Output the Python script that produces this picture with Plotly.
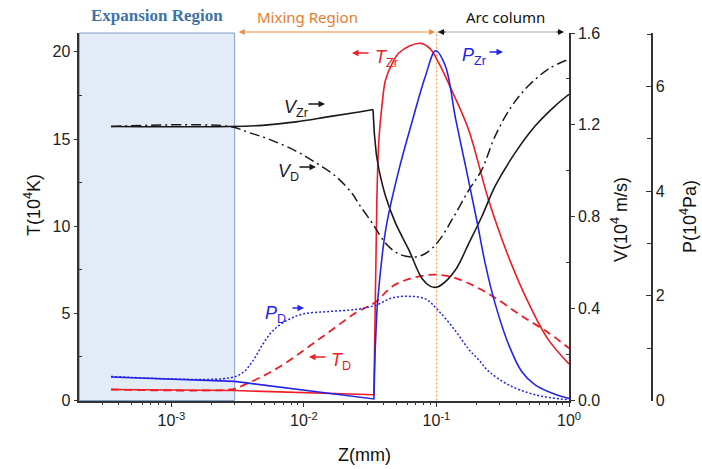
import numpy as np
import plotly.graph_objects as go

# ---- profiles along the axis, Z in mm ----
# temperature (1e4 K)
z_t_zr = [3.5e-4, 3.0e-3, 3.37e-2, 3.42e-2, 3.48e-2, 3.55e-2, 3.68e-2, 3.89e-2, 4.13e-2, 4.68e-2,
          5.20e-2, 6.31e-2, 7.57e-2, 8.91e-2, 0.104, 0.130, 0.175, 0.247, 0.349, 0.494, 0.698, 1.0]
t_zr = [0.63, 0.57, 0.33, 3.0, 8.0, 11.5, 15.0, 17.0, 18.4, 19.4,
        19.93, 20.35, 20.49, 20.2, 19.36, 17.81, 15.52, 11.51, 8.26, 5.61, 3.49, 2.1]

z_t_d = [3.5e-4, 3.0e-3, 3.26e-3, 4.88e-3, 7.31e-3, 1.096e-2, 1.64e-2, 2.46e-2, 3.48e-2, 4.63e-2,
         6.55e-2, 9.82e-2, 0.139, 0.196, 0.277, 0.440, 0.698, 1.0]
t_d = [0.63, 0.66, 0.78, 1.39, 2.16, 3.11, 4.07, 5.03, 5.65, 6.54,
       7.02, 7.22, 7.02, 6.54, 5.89, 4.85, 3.89, 3.0]

# velocity (1e4 m/s)
z_v_zr = [3.5e-4, 2.74e-3, 4.88e-3, 8.71e-3, 1.55e-2, 2.46e-2, 3.32e-2, 3.40e-2, 3.52e-2, 3.68e-2, 4.13e-2,
          4.91e-2, 6.19e-2, 7.80e-2, 9.02e-2, 0.100, 0.110, 0.139, 0.175, 0.220, 0.277, 0.393, 0.555,
          0.783, 1.0]
v_zr = [1.193, 1.193, 1.198, 1.213, 1.236, 1.254, 1.267, 1.16, 1.07, 1.005, 0.889,
        0.772, 0.656, 0.530, 0.497, 0.493, 0.505, 0.568, 0.683, 0.801, 0.933, 1.079, 1.195,
        1.282, 1.333]

z_v_d = [3.5e-4, 2.74e-3, 3.87e-3, 5.48e-3, 8.71e-3, 1.23e-2, 1.74e-2, 2.32e-2, 2.60e-2, 3.28e-2,
         4.13e-2, 5.20e-2, 6.75e-2, 8.26e-2, 0.104, 0.131, 0.175, 0.220, 0.277, 0.370, 0.494, 0.698, 1.0]
v_d = [1.193, 1.193, 1.166, 1.137, 1.086, 1.035, 0.976, 0.90, 0.855, 0.772,
       0.685, 0.638, 0.625, 0.640, 0.695, 0.787, 0.915, 1.005, 1.151, 1.282, 1.370, 1.443, 1.486]

# pressure (1e4 Pa)
z_p_zr = [3.5e-4, 3.0e-3, 3.37e-2, 3.45e-2, 3.56e-2, 4.13e-2, 5.20e-2, 6.52e-2, 8.26e-2, 9.86e-2,
          0.1167, 0.139, 0.165, 0.203, 0.233, 0.277, 0.349, 0.438, 0.555, 0.783, 1.0]
p_zr = [0.45, 0.365, 0.03, 1.0, 1.75, 3.25, 4.4, 5.31, 6.2, 6.68,
        6.39, 5.4, 4.5, 3.4, 2.62, 1.85, 1.08, 0.56, 0.30, 0.12, 0.04]

z_p_d = [3.5e-4, 2.74e-3, 3.45e-3, 4.10e-3, 4.88e-3, 5.81e-3, 7.31e-3, 9.75e-3, 1.55e-2, 2.46e-2,
         3.48e-2, 4.63e-2, 6.19e-2, 8.26e-2, 0.104, 0.139, 0.175, 0.208, 0.247, 0.349, 0.555, 1.0]
p_d = [0.46, 0.43, 0.53, 0.75, 1.07, 1.33, 1.52, 1.65, 1.70, 1.74,
       1.82, 1.96, 1.99, 1.94, 1.71, 1.33, 0.98, 0.78, 0.56, 0.30, 0.11, 0.01]

# region boundaries (mm)
z_expansion_end = 3e-3
z_mixing_end = 0.1

# axis ticks
x_tickvals = [1e-3, 1e-2, 1e-1, 1.0]
x_ticktext = ["10<sup>-3</sup>", "10<sup>-2</sup>", "10<sup>-1</sup>", "10<sup>0</sup>"]
t_ticks = [0, 5, 10, 15, 20]
v_ticks = [0.0, 0.4, 0.8, 1.2, 1.6]
p_ticks = [0, 2, 4, 6]

# ---- layout geometry ----
W, H = 702, 469
XR = [-3.695, 0.0]
XDOM = [79.3 / W, 569 / W]
YDOM = [1 - 400.5 / H, 1 - 33 / H]
FONT = "Liberation Sans, Arial, sans-serif"
RED = "#ee1c24"
BLUE = "#2424e6"
BLACK = "#1a1a1a"
AX = "#333333"


def xp(z):
    """paper x of a Z value on the log axis"""
    return XDOM[0] + (np.log10(z) - XR[0]) / (XR[1] - XR[0]) * (XDOM[1] - XDOM[0])


def px(x):
    return x / W


def py(y):
    return 1 - y / H


fig = go.Figure()


def add_curve(z, v, yaxis, line, pieces):
    """draw one profile; smooth parts as splines, the steep jump as straight segments"""
    for i0, i1, shape in pieces:
        seg = dict(line, shape=shape)
        if shape == "spline":
            seg["smoothing"] = 1.0
        fig.add_trace(go.Scatter(x=z[i0:i1], y=v[i0:i1], yaxis=yaxis, mode="lines", line=seg,
                                 hoverinfo="x+y"))


ALL = [(0, None, "spline")]
add_curve(z_v_d, v_d, "y2", dict(color=BLACK, width=1.5, dash="10px,4px,2px,4px"), ALL)
add_curve(z_v_zr, v_zr, "y2", dict(color=BLACK, width=1.6),
          [(0, 7, "spline"), (6, 10, "linear"), (9, None, "spline")])
add_curve(z_p_d, p_d, "y3", dict(color=BLUE, width=1.5, dash="2px,2px"), ALL)
add_curve(z_t_d, t_d, "y", dict(color=RED, width=1.8, dash="8px,5px"), ALL)
add_curve(z_p_zr, p_zr, "y3", dict(color=BLUE, width=1.6), [(0, 5, "linear"), (4, None, "spline")])
add_curve(z_t_zr, t_zr, "y", dict(color=RED, width=1.6), [(0, 6, "linear"), (5, None, "spline")])

# expansion region shading, mixing/arc boundary, arc-column span line
shapes = [
    dict(type="rect", xref="paper", yref="paper", x0=XDOM[0], x1=xp(z_expansion_end),
         y0=YDOM[0], y1=YDOM[1], fillcolor="#e3ebf6", line=dict(color="#7f9fc4", width=1), layer="below"),
    dict(type="line", xref="paper", yref="paper", x0=xp(z_mixing_end), x1=xp(z_mixing_end),
         y0=YDOM[0], y1=YDOM[1] + 0.002, line=dict(color="#f29a55", width=1, dash="2px,2px"), layer="below"),
    dict(type="line", xref="paper", yref="paper", x0=xp(z_mixing_end), x1=px(563),
         y0=py(32), y1=py(32), line=dict(color="#aaaaaa", width=1.2)),
]

ann = []
C = dict(xref="paper", yref="paper", xanchor="center", yanchor="middle")

# region arrows and titles
x_exp = xp(z_expansion_end) * W
x_mix = xp(z_mixing_end) * W
ann.append(dict(C, x=(x_mix - 1.5) / W, y=py(32), text="", showarrow=True,
                ax=-(x_mix - x_exp - 4), ay=0, arrowside="end+start", arrowhead=2, arrowsize=1,
                arrowwidth=1.2, arrowcolor="#f08a3c"))
ann.append(dict(C, x=(x_mix + 1.5) / W, y=py(32), text="", showarrow=True,
                ax=9, ay=0, arrowhead=2, arrowsize=1, arrowwidth=1.2, arrowcolor="#111111"))
ann.append(dict(C, x=px(564), y=py(32), text="", showarrow=True,
                ax=-9, ay=0, arrowhead=2, arrowsize=1, arrowwidth=1.2, arrowcolor="#111111"))
ann.append(dict(C, x=px(157), y=py(16), showarrow=False, text="<b>Expansion Region</b>",
                font=dict(family="Liberation Serif, Times New Roman, serif", size=17, color="#3f72aa")))
ann.append(dict(C, x=px(307), y=py(17), showarrow=False, text="Mixing Region",
                font=dict(family="Noto Sans, sans-serif", size=15, color="#e57c2c")))
ann.append(dict(C, x=px(505), y=py(17), showarrow=False, text="Arc column",
                font=dict(family="Noto Sans, sans-serif", size=15, color="#111111")))

# curve labels
LBL = dict(family=FONT, size=18)


def label(text, x, y, color):
    ann.append(dict(C, x=px(x), y=py(y), showarrow=False, text=text, font=dict(LBL, color=color)))


def arrow(x_tip, y, dx, color):
    ann.append(dict(C, x=px(x_tip), y=py(y), text="", showarrow=True,
                    ax=dx, ay=0, arrowhead=2, arrowsize=1, arrowwidth=1.3, arrowcolor=color))


label("<i>V</i><sub>Zr</sub>", 296, 109, BLACK)
arrow(325, 104, -18, BLACK)
label("<i>V</i><sub>D</sub>", 288, 172, BLACK)
arrow(316, 167, -18, BLACK)
label("<i>P</i><sub>D</sub>", 275, 314, BLUE)
arrow(304, 308, -13, BLUE)
label("<i>T</i><sub>D</sub>", 341, 361, RED)
arrow(309, 357, 18, RED)
label("<i>T</i><sub>Zr</sub>", 386, 58, RED)
arrow(352, 53, 18, RED)
label("<i>P</i><sub>Zr</sub>", 474, 56, BLUE)
arrow(503, 52, -15, BLUE)

# axis titles
TT = dict(family=FONT, size=18, color="#111111")
ann.append(dict(C, x=px(32), y=py(205), showarrow=False, textangle=-90,
                text="T(10<sup>4</sup>K)", font=TT))
ann.append(dict(C, x=px(619), y=py(220), showarrow=False, textangle=-90,
                text="V(10<sup>4</sup> m/s)", font=TT))
ann.append(dict(C, x=px(688), y=py(217), showarrow=False, textangle=-90,
                text="P(10<sup>4</sup>Pa)", font=TT))
ann.append(dict(C, x=px(364), y=py(455), showarrow=False, text="Z(mm)", font=TT))

x_minor = [m * 10.0 ** d for d in (-4, -3, -2, -1) for m in range(2, 10) if np.log10(m * 10.0 ** d) > XR[0]]
TF = dict(family=FONT, size=16, color="#222222")

fig.update_layout(
    width=W, height=H, autosize=False, margin=dict(l=0, r=0, t=0, b=0, pad=0, autoexpand=False),
    paper_bgcolor="white", plot_bgcolor="white", showlegend=False,
    shapes=shapes, annotations=ann,
    xaxis=dict(type="log", range=XR, domain=XDOM, tickvals=x_tickvals, ticktext=x_ticktext,
               ticks="outside", ticklen=5, tickwidth=1.3, tickcolor=AX, tickfont=TF, automargin=False,
               showline=True, linecolor=AX, linewidth=1.5, showgrid=False, zeroline=False,
               minor=dict(tickvals=x_minor, ticks="outside", ticklen=3, tickwidth=1, tickcolor=AX,
                          showgrid=False)),
    yaxis=dict(domain=YDOM, range=[0, 21.08], tickvals=t_ticks, ticks="outside", ticklen=4,
               tickwidth=1.3, tickcolor=AX, tickfont=TF, showline=True, linecolor=AX, linewidth=1.5,
               showgrid=False, zeroline=False, anchor="x", automargin=False,
               minor=dict(tickvals=[2.5, 7.5, 12.5, 17.5], ticks="inside", ticklen=3, tickcolor=AX)),
    yaxis2=dict(overlaying="y", side="right", anchor="x", range=[0, 1.6], tickvals=v_ticks,
                ticktext=[f"{v:.1f}" for v in v_ticks], ticks="outside", ticklen=4, tickwidth=1.3,
                tickcolor=AX, tickfont=TF, showline=True, linecolor=AX, linewidth=1.5,
                showgrid=False, zeroline=False, automargin=False,
                minor=dict(tickvals=[0.2, 0.6, 1.0, 1.4], ticks="inside", ticklen=3, tickcolor=AX)),
    yaxis3=dict(overlaying="y", side="right", anchor="free", position=651.7 / W, range=[0, 7.02],
                tickvals=p_ticks, ticks="inside", ticklen=5, tickwidth=1.3, tickcolor=AX, tickfont=TF,
                showline=True, linecolor=AX, linewidth=1.5, showgrid=False, zeroline=False,
                automargin=False,
                minor=dict(tickvals=[1, 3, 5, 7], ticks="inside", ticklen=4, tickcolor=AX)),
)

fig.write_html("out.html")
